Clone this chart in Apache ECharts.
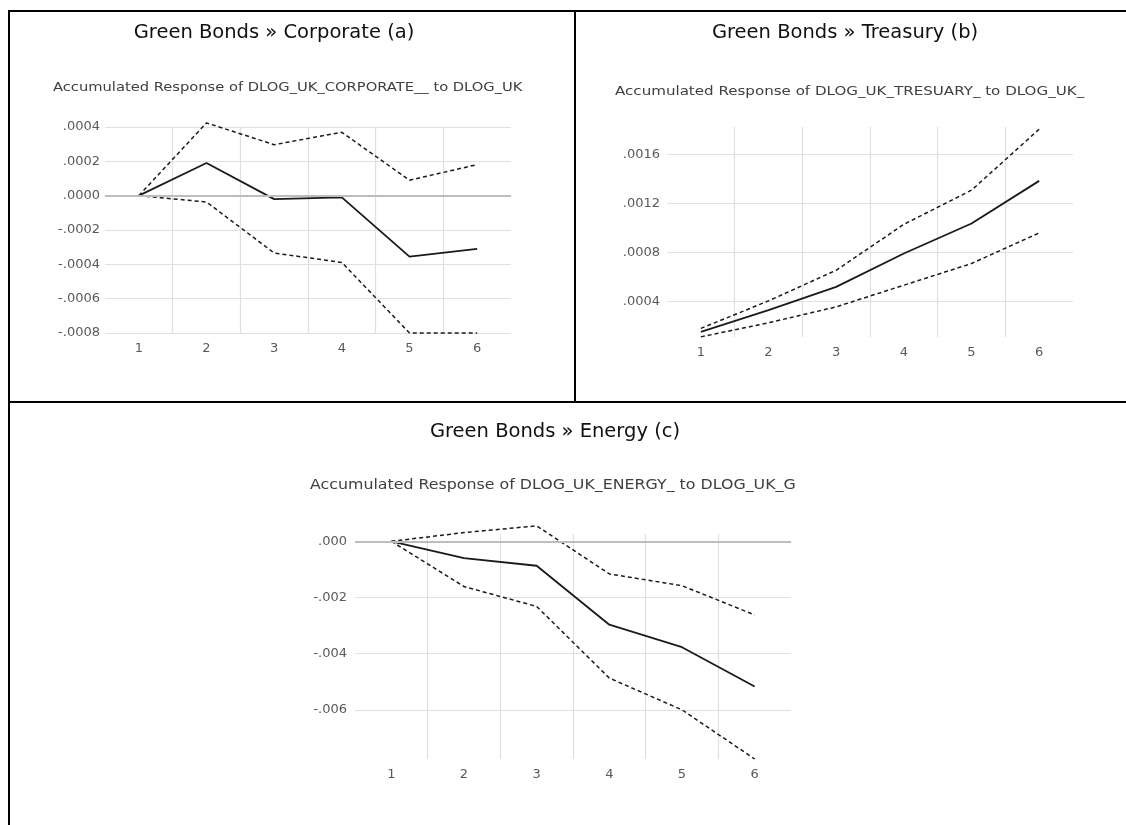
<!DOCTYPE html>
<html>
<head>
<meta charset="utf-8">
<script src="https://cdn.jsdelivr.net/npm/echarts@6/dist/echarts.min.js"></script>
<style>
  html, body { margin: 0; padding: 0; background: #fff; }
  #chart { width: 1126px; height: 825px; }
</style>
</head>
<body>
<div id="chart"></div>
<script>
// horizons on the x axis
const horizons = ['1', '2', '3', '4', '5', '6'];

// (a) corporate
const corpResp  = [0, 0.00019, -0.00002, -0.00001, -0.000355, -0.00031];
const corpUpper = [0, 0.000424, 0.000297, 0.000369, 0.00009, 0.000181];
const corpLower = [0, -0.000037, -0.000334, -0.000389, -0.0008, -0.0008];

// (b) treasury
const treasResp  = [0.000152, 0.000329, 0.000519, 0.000792, 0.001037, 0.001385];
const treasUpper = [0.00018, 0.000405, 0.000655, 0.00103, 0.001309, 0.001807];
const treasLower = [0.000111, 0.000226, 0.000356, 0.000533, 0.00071, 0.00096];
const treasTicks = [0.0004, 0.0008, 0.0012, 0.0016];

// (c) energy
const energyResp  = [0, -0.0006, -0.00087, -0.00297, -0.00377, -0.00517];
const energyUpper = [0, 0.00031, 0.00055, -0.00116, -0.00158, -0.00262];
const energyLower = [0, -0.00161, -0.00232, -0.00487, -0.006, -0.00775];
const energyTicks = [-0.006, -0.004, -0.002, 0];

const chart = echarts.init(document.getElementById('chart'));

const labelFont = { color: '#595959', fontSize: 13, fontFamily: 'DejaVu Sans' };
const gridLine = { show: true, lineStyle: { color: '#e0e0e0', width: 1.2 } };

const fmt = (digits) => (v) => v.toFixed(digits).replace('0.', '.');

const xAx = (gi) => ({
  type: 'category', gridIndex: gi, data: horizons, boundaryGap: true,
  axisLine: { show: false }, axisTick: { show: false },
  axisLabel: Object.assign({ margin: 9 }, labelFont),
  splitLine: { show: true, showMinLine: false, showMaxLine: false, lineStyle: { color: '#e0e0e0', width: 1.2 } }
});

// 实线为响应，虚线为置信带
const solid = { color: '#1a1a1a', width: 1.8, type: 'solid' };
const dashed = { color: '#1a1a1a', width: 1.5, type: [4, 3] };
const zeroLine = {
  silent: true, symbol: ['none', 'none'], label: { show: false },
  lineStyle: { color: '#bdbdbd', width: 1.8, type: 'solid' },
  data: [{ yAxis: 0 }]
};

const mk = (idx, data, style, extra) => Object.assign({
  type: 'line', xAxisIndex: idx, yAxisIndex: idx, data: data,
  symbol: 'none', lineStyle: style, clip: false, silent: true
}, extra || {});

const titleFont = { fontSize: 19.5, fontFamily: 'DejaVu Sans', fill: '#111' };
const subFont = { fontFamily: 'DejaVu Sans', fill: '#404040' };

const txt = (x, y, text, align, style, sx) => ({
  type: 'text', x: x, y: y, scaleX: sx || 1,
  style: Object.assign({ text: text, textAlign: align, textVerticalAlign: 'middle' }, style)
});
const ln = (x1, y1, x2, y2) => ({
  type: 'line', shape: { x1: x1, y1: y1, x2: x2, y2: y2 },
  style: { stroke: '#000', lineWidth: 2 }
});

const option = {
  animation: false,
  backgroundColor: '#fff',
  grid: [
    { left: 105, top: 127, width: 406, height: 206 },
    { left: 667, top: 127, width: 406, height: 210 },
    { left: 355, top: 534, width: 436, height: 225 }
  ],
  xAxis: [xAx(0), xAx(1), xAx(2)],
  yAxis: [
    {
      type: 'value', gridIndex: 0, min: -0.0008, max: 0.0004, interval: 0.0002,
      axisLine: { show: false }, axisTick: { show: false },
      axisLabel: Object.assign({ formatter: fmt(4), margin: 5 }, labelFont),
      splitLine: gridLine
    },
    {
      type: 'value', gridIndex: 1, min: 0.00011, max: 0.001825,
      axisLine: { show: false },
      axisTick: { show: false, customValues: treasTicks },
      axisLabel: Object.assign({ formatter: fmt(4), margin: 7, customValues: treasTicks }, labelFont),
      splitLine: gridLine
    },
    {
      type: 'value', gridIndex: 2, min: -0.00775, max: 0.00026,
      axisLine: { show: false },
      axisTick: { show: false, customValues: energyTicks },
      axisLabel: Object.assign({ formatter: fmt(3), margin: 8, customValues: energyTicks }, labelFont),
      splitLine: gridLine
    }
  ],
  series: [
    mk(0, corpResp, solid, { markLine: zeroLine, z: 3 }),
    mk(0, corpUpper, dashed),
    mk(0, corpLower, dashed),
    mk(1, treasResp, solid, { z: 3 }),
    mk(1, treasUpper, dashed),
    mk(1, treasLower, dashed),
    mk(2, energyResp, solid, { markLine: zeroLine, z: 3 }),
    mk(2, energyUpper, dashed),
    mk(2, energyLower, dashed)
  ],
  graphic: [
    ln(9, 11, 1126, 11),
    ln(9, 10, 9, 825),
    ln(575, 11, 575, 402),
    ln(9, 402, 1126, 402),
    txt(274, 33, 'Green Bonds \u00bb Corporate (a)', 'center', titleFont),
    txt(845, 33, 'Green Bonds \u00bb Treasury (b)', 'center', titleFont),
    txt(555, 432, 'Green Bonds \u00bb Energy (c)', 'center', titleFont),
    txt(53, 88, 'Accumulated Response of DLOG_UK_CORPORATE__ to DLOG_UK', 'left', Object.assign({ fontSize: 13 }, subFont), 1.13),
    txt(615, 92, 'Accumulated Response of DLOG_UK_TRESUARY_ to DLOG_UK_', 'left', Object.assign({ fontSize: 13 }, subFont), 1.16),
    txt(310, 485, 'Accumulated Response of DLOG_UK_ENERGY_ to DLOG_UK_G', 'left', Object.assign({ fontSize: 14 }, subFont), 1.13)
  ]
};

chart.setOption(option, true);
window.onresize = chart.resize;
</script>
</body>
</html>
